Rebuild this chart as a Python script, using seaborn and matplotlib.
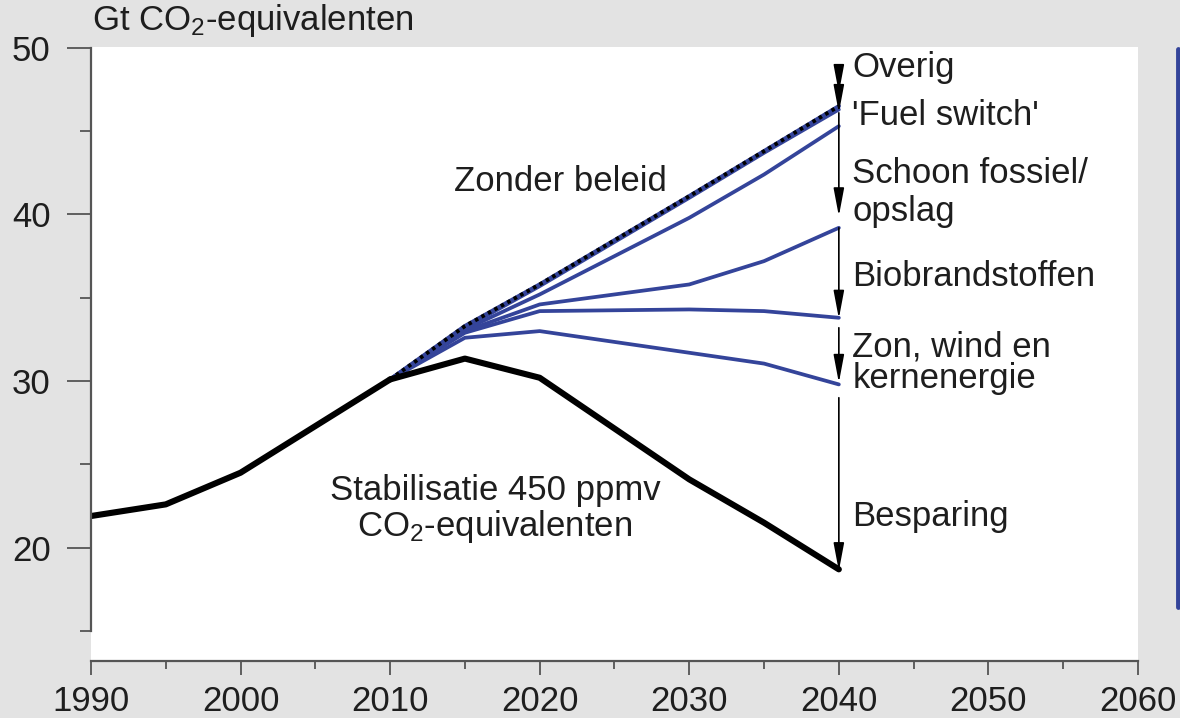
import numpy as np
import pandas as pd
import seaborn as sns
import matplotlib.pyplot as plt
from matplotlib.lines import Line2D
from matplotlib.ticker import MultipleLocator

# Emission paths in Gt CO2-equivalents
hist_years = [1990, 1995, 2000, 2005, 2010]
hist_vals = [21.9, 22.6, 24.5, 27.3, 30.1]

proj_years = [2010, 2015, 2020, 2030, 2035, 2040]
zonder_beleid = [30.1, 33.3, 35.8, 41.1, 43.8, 46.5]
na_overig = [30.1, 33.2, 35.7, 41.0, 43.7, 46.3]
na_fuel_switch = [30.1, 33.1, 35.2, 39.8, 42.4, 45.3]
na_schoon_fossiel = [30.1, 33.0, 34.6, 35.8, 37.2, 39.2]
na_biobrandstoffen = [30.1, 32.9, 34.2, 34.3, 34.2, 33.8]
na_zon_wind_kern = [30.1, 32.6, 33.0, 31.7, 31.05, 29.8]
stabilisatie = [30.1, 31.35, 30.2, 24.1, 21.5, 18.7]

# reduction wedges at 2040 (top, bottom) and their labels
wedge_labels = ['Overig', "'Fuel switch'", 'Schoon fossiel/\nopslag',
                'Biobrandstoffen', 'Zon, wind en\nkernenergie', 'Besparing']
wedge_top = [48.4, 47.2, 46.1, 39.2, 33.2, 29.0]
wedge_bottom = [47.3, 46.1, 39.9, 33.75, 29.9, 18.6]
label_y = [48.8, 45.95, 41.3, 36.3, 31.1, 21.9]

sns.set_style('ticks')
plt.rcParams['font.family'] = ['Liberation Sans', 'DejaVu Sans']
plt.rcParams['mathtext.fontset'] = 'custom'
plt.rcParams['mathtext.rm'] = 'Liberation Sans'
plt.rcParams['mathtext.it'] = 'Liberation Sans:italic'

bg = '#e3e3e3'
blue = '#34449a'
txt = '#1e1e1e'
fs = 25

fig = plt.figure(figsize=(11.8, 7.18), dpi=100, facecolor=bg)
ax = fig.add_axes([0.0771, 0.0794, 0.8873, 0.8551])
ax.set_facecolor('white')

for vals in [na_overig, na_fuel_switch, na_schoon_fossiel,
             na_biobrandstoffen, na_zon_wind_kern]:
    sns.lineplot(x=proj_years, y=vals, color=blue, lw=2.7, ax=ax)
sns.lineplot(x=proj_years, y=zonder_beleid, color=blue, lw=3.0, ax=ax)
sns.lineplot(x=proj_years, y=zonder_beleid, color='black', lw=2.8,
             linestyle=(0, (0.9, 1.0)), ax=ax)
sns.lineplot(x=hist_years, y=hist_vals, color='black', lw=4.4, ax=ax)
sns.lineplot(x=proj_years, y=stabilisatie, color='black', lw=4.4, ax=ax)

x_end = proj_years[-1]
for lab, top, bot, ly in zip(wedge_labels, wedge_top, wedge_bottom, label_y):
    ax.annotate('', xy=(x_end, bot), xytext=(x_end, top),
                arrowprops=dict(arrowstyle='-|>,head_length=1.7,head_width=0.32',
                                mutation_scale=10, color='black', lw=1.2,
                                shrinkA=0, shrinkB=0))
    ax.text(x_end + 0.9, ly, lab, fontsize=fs, color=txt, ha='left',
            va='center', linespacing=0.95 if 'Zon' in lab else 1.2)

ax.text(2014.3, 42.0, 'Zonder beleid', fontsize=fs, color=txt,
        ha='left', va='center')
ax.text(2017.0, 22.3, 'Stabilisatie 450 ppmv\nCO$_2$-equivalenten',
        fontsize=fs, color=txt, ha='center', va='center', linespacing=1.05)
fig.text(0.078, 0.972, 'Gt CO$_2$-equivalenten', fontsize=fs, color=txt,
         ha='left', va='center')

ax.set_xlim(1990, 2060)
ax.set_ylim(13.2, 50.05)
ax.set_xlabel('')
ax.set_ylabel('')
ax.xaxis.set_major_locator(MultipleLocator(10))
ax.xaxis.set_minor_locator(MultipleLocator(5))
ax.set_yticks([20, 30, 40, 50])
ax.set_yticks([15, 25, 35, 45], minor=True)

for s in ['top', 'right']:
    ax.spines[s].set_visible(False)
for s in ['left', 'bottom']:
    ax.spines[s].set_color('#555555')
    ax.spines[s].set_linewidth(1.6)
ax.spines['left'].set_bounds(15, 50)

ax.tick_params(axis='y', which='major', length=17, width=1.3, color='#555555',
               labelsize=fs, labelcolor=txt, pad=12)
ax.tick_params(axis='y', which='minor', length=8, width=1.3, color='#555555')
ax.tick_params(axis='x', which='major', length=10, width=1.3, color='#555555',
               labelsize=fs, labelcolor=txt, pad=7)
ax.tick_params(axis='x', which='minor', length=6, width=1.3, color='#555555')

fig.add_artist(Line2D([0.9983, 0.9983], [1 - 49 / 718, 1 - 607 / 718],
                      transform=fig.transFigure, color=blue, lw=3.5))

fig.savefig('out.png', dpi=100, facecolor=bg)
